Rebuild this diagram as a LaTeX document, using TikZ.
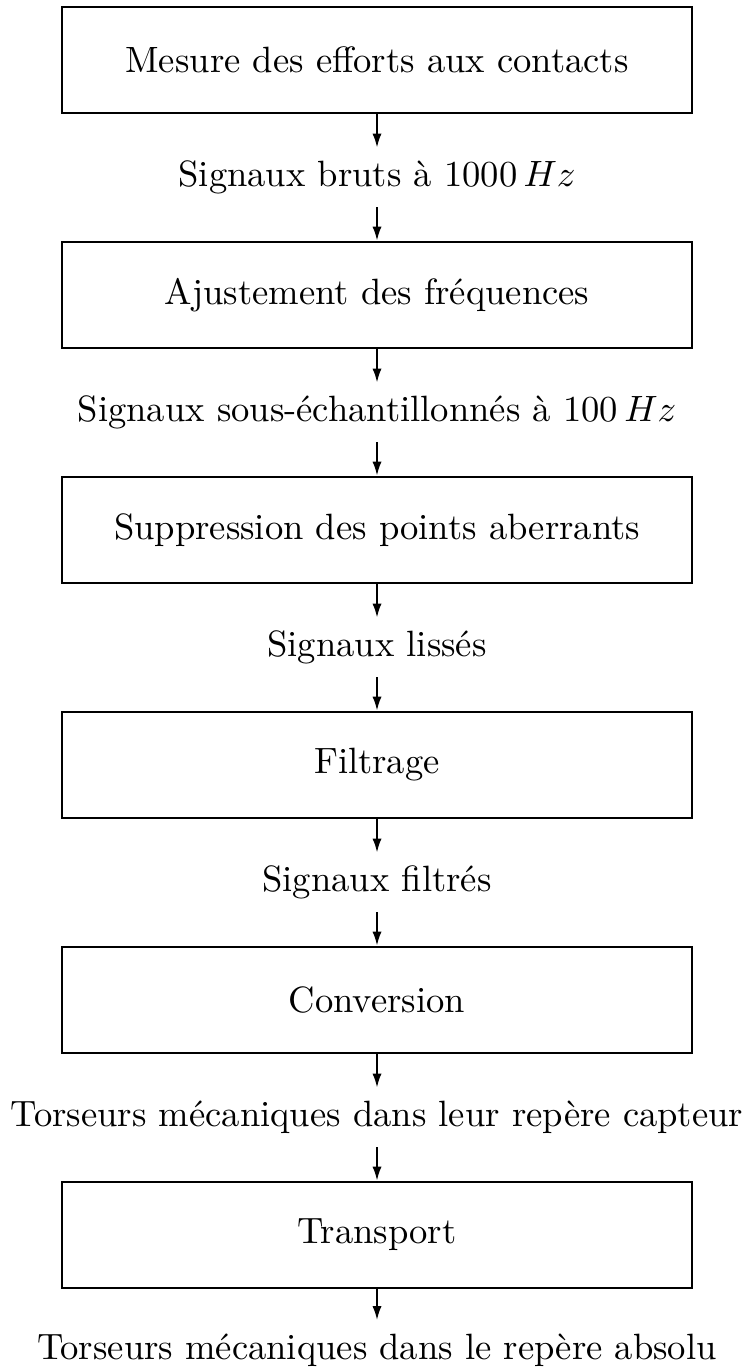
\documentclass[tikz,border=0pt]{standalone}
\usetikzlibrary{arrows.meta}
\newcommand{\flowtext}[1]{\scalebox{1.83}{\fontsize{10}{12}\selectfont #1}}
\begin{document}
\begin{tikzpicture}[x=0.5pt,y=-0.5pt,
  stagebox/.style={draw,line width=1.35pt,minimum width=315pt,minimum height=53pt,inner sep=0pt},
  flowlabel/.style={inner sep=0pt,minimum height=29.5pt},
  flowarrow/.style={line width=1pt,-{Latex[length=7pt,width=4.6pt]}}]
\useasboundingbox (0,0) rectangle (746,1368);
% boxes: top 7 + 235k, height 106, centre x 377
\node[stagebox] (b1) at (377,60) {\flowtext{Mesure des efforts aux contacts}};
\node[stagebox] (b2) at (377,295) {\flowtext{Ajustement des fréquences}};
\node[stagebox] (b3) at (377,530) {\flowtext{Suppression des points aberrants}};
\node[stagebox] (b4) at (377,765) {\flowtext{Filtrage}};
\node[stagebox] (b5) at (377,1000) {\flowtext{Conversion}};
\node[stagebox] (b6) at (377,1235) {\flowtext{Transport}};
% labels
\node[flowlabel] (l1) at (377,177.5) {\flowtext{Signaux bruts à 1000\,$Hz$}};
\node[flowlabel] (l2) at (377,412.5) {\flowtext{Signaux sous-échantillonnés à 100\,$Hz$}};
\node[flowlabel] (l3) at (377,647.5) {\flowtext{Signaux lissés}};
\node[flowlabel] (l4) at (377,882.5) {\flowtext{Signaux filtrés}};
\node[flowlabel] (l5) at (377,1117.5) {\flowtext{Torseurs mécaniques dans leur repère capteur}};
\node[flowlabel] (l6) at (377,1350) {\flowtext{Torseurs mécaniques dans le repère absolu}};
% arrows
\foreach \i/\j in {1/2,2/3,3/4,4/5,5/6}{
  \draw[flowarrow] (b\i.south) -- (l\i.north);
  \draw[flowarrow] (l\i.south) -- (b\j.north);
}
\draw[flowarrow] (b6.south) -- (l6.north);
\end{tikzpicture}
\end{document}
